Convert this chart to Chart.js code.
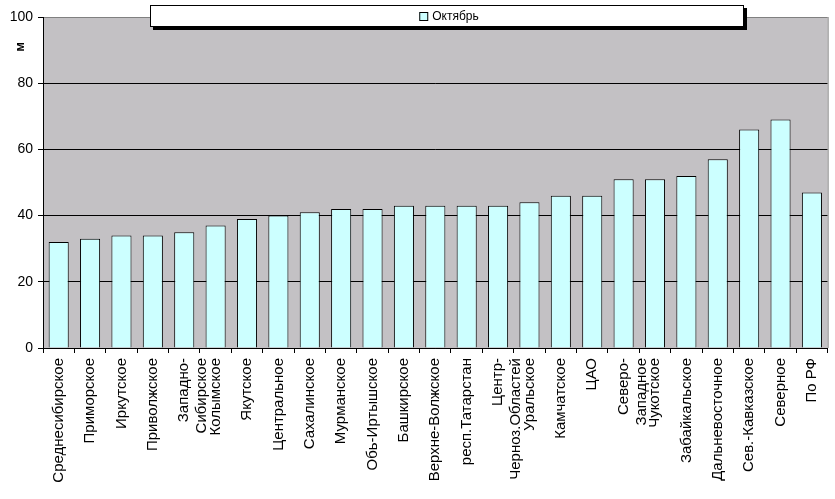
<!DOCTYPE html>
<html><head><meta charset="utf-8">
<script src="https://cdn.jsdelivr.net/npm/chart.js@4.4.0/dist/chart.umd.min.js"></script>
<style>html,body{margin:0;padding:0;background:#fff;}#wrap{width:835px;height:499px;}</style>
</head><body><div id="wrap"><canvas id="c" width="835" height="499"></canvas></div>
<script>
const categories = [
  'Среднесибирское', 'Приморское', 'Иркутское', 'Приволжское', ['Западно-', 'Сибирское'],
  'Колымское', 'Якутское', 'Центральное', 'Сахалинское', 'Мурманское',
  'Обь-Иртышское', 'Башкирское', 'Верхне-Волжское', 'респ.Татарстан', ['Центр-', 'Черноз.Областей'],
  'Уральское', 'Камчатское', 'ЦАО', ['Северо-', 'Западное'], 'Чукотское',
  'Забайкальское', 'Дальневосточное', 'Сев.-Кавказское', 'Северное', 'По РФ'
];
const octoberValues = [32, 33, 34, 34, 35, 37, 39, 40, 41, 42, 42, 43, 43, 43, 43, 44, 46, 46, 51, 51, 52, 57, 66, 69, 47];
const seriesName = 'Октябрь';
const yAxisTitle = 'м';
const yTicks = [0, 20, 40, 60, 80, 100];

const FONT = 'Liberation Sans, Arial, sans-serif';
const BAR = '#ccffff';

const decor = {
  id: 'decor',
  beforeDraw(chart) {
    const {ctx, chartArea: a} = chart;
    ctx.save();
    ctx.fillStyle = '#c3c1c4';
    ctx.fillRect(a.left, a.top, a.right - a.left, a.bottom - a.top);
    ctx.restore();
  },
  afterDraw(chart) {
    const {ctx, chartArea: a} = chart;
    ctx.save();
    ctx.strokeStyle = '#808080';
    ctx.lineWidth = 1;
    ctx.beginPath();
    ctx.moveTo(a.right + 0.5, a.top);
    ctx.lineTo(a.right + 0.5, a.bottom);
    ctx.stroke();
    ctx.fillStyle = '#000';
    ctx.font = 'bold 13px ' + FONT;
    ctx.translate(20, 47);
    ctx.rotate(-Math.PI / 2);
    ctx.textAlign = 'center';
    ctx.textBaseline = 'middle';
    ctx.fillText(yAxisTitle, 0, 0);
    ctx.restore();
    ctx.save();
    const lx = 150, ly = 5, lw = 594, lh = 22;
    ctx.fillStyle = '#000';
    ctx.fillRect(lx + 3, ly + 3, lw, lh);
    ctx.fillStyle = '#fff';
    ctx.fillRect(lx, ly, lw, lh);
    ctx.strokeStyle = '#000';
    ctx.lineWidth = 1;
    ctx.strokeRect(lx + 0.5, ly + 0.5, lw - 1, lh - 1);
    ctx.font = '12px ' + FONT;
    const label = chart.data.datasets[0].label;
    const tw = ctx.measureText(label).width;
    const total = 9 + 4 + tw;
    const sx = lx + lw / 2 - total / 2 + 2;
    ctx.fillStyle = BAR;
    ctx.fillRect(sx, ly + 7, 9, 9);
    ctx.strokeRect(sx + 0.5, ly + 7.5, 8, 8);
    ctx.fillStyle = '#000';
    ctx.textBaseline = 'middle';
    ctx.fillText(label, sx + 13, ly + lh / 2 + 0.5);
    ctx.restore();
  }
};

new Chart(document.getElementById('c'), {
  type: 'bar',
  data: {
    labels: categories,
    datasets: [{
      label: seriesName,
      data: octoberValues,
      backgroundColor: BAR,
      borderColor: '#000',
      borderWidth: 1,
      barPercentage: 0.64,
      categoryPercentage: 1
    }]
  },
  options: {
    responsive: false,
    animation: false,
    layout: {padding: {top: 17, right: 4, left: 0, bottom: 0}},
    plugins: {legend: {display: false}, tooltip: {enabled: false}},
    scales: {
      x: {
        offset: true,
        afterFit(s) { s.height = 151; },
        grid: {offset: true, drawOnChartArea: false, color: '#000', tickLength: 5, tickColor: '#000'},
        border: {color: '#000'},
        ticks: {
          color: '#000', font: {family: FONT, size: 15},
          minRotation: 90, maxRotation: 90, autoSkip: false, padding: 5
        }
      },
      y: {
        min: 0, max: 100,
        afterFit(s) { s.width = 43; },
        afterBuildTicks(s) { s.ticks = yTicks.map(v => ({value: v})); },
        grid: {
          color: c => (c.tick && c.tick.value === 100) ? '#808080' : '#000',
          tickLength: 5, tickColor: '#000'
        },
        border: {color: '#000'},
        ticks: {color: '#000', font: {family: FONT, size: 14}, padding: 5}
      }
    }
  },
  plugins: [decor]
});
</script></body></html>
